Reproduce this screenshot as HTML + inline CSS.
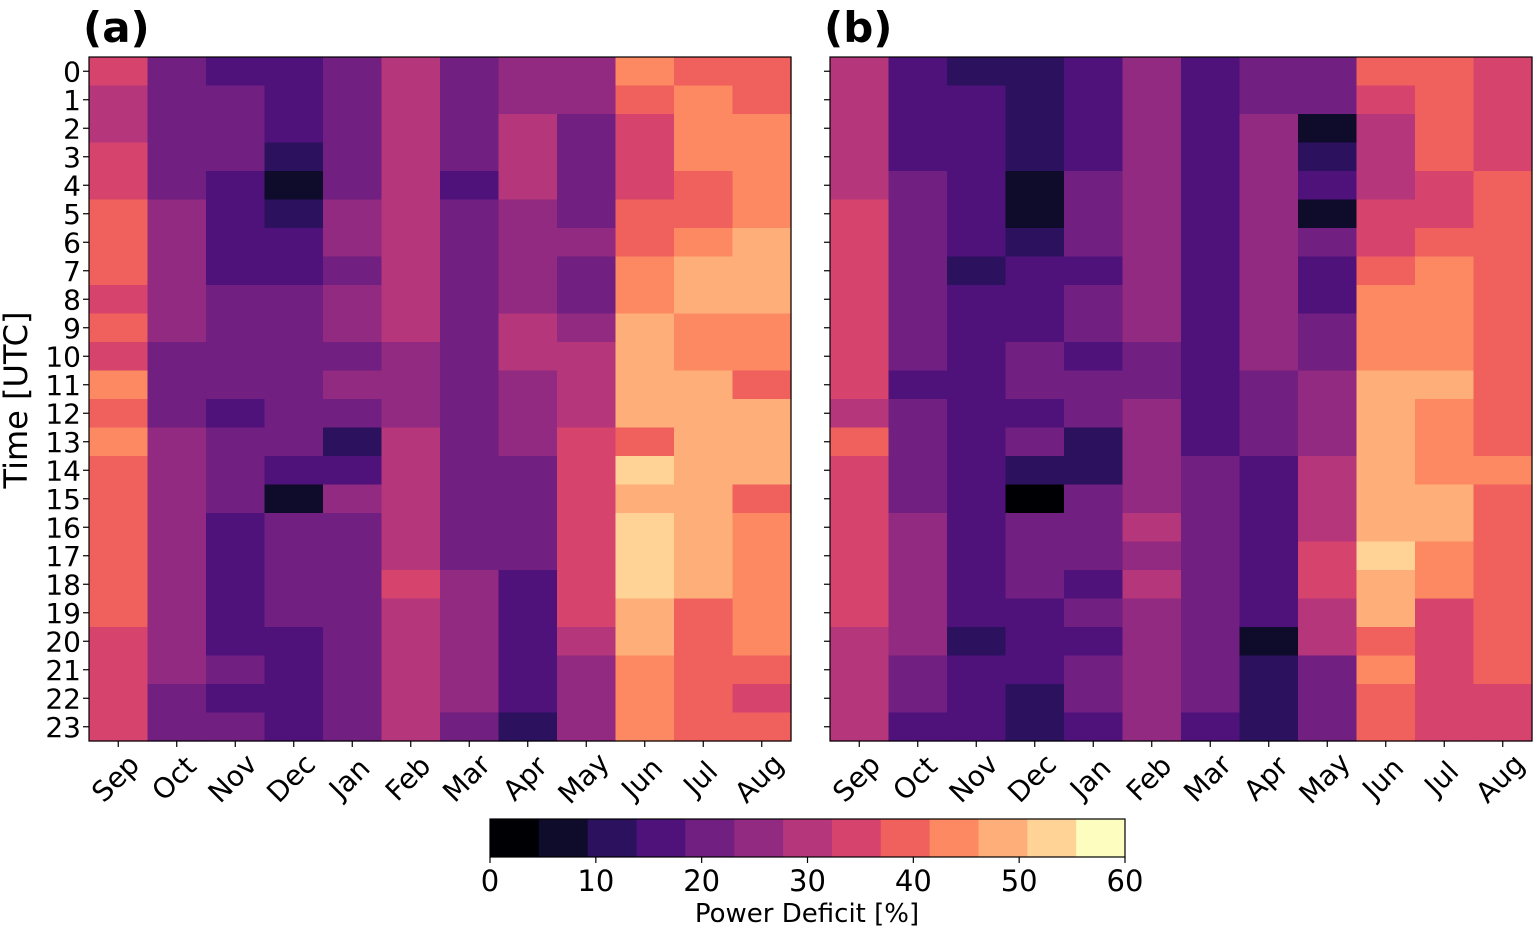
<!DOCTYPE html>
<html><head><meta charset="utf-8"><style>
html,body{margin:0;padding:0;background:#fff}
svg{display:block;font-family:"DejaVu Sans","Liberation Sans",sans-serif}
</style></head><body>
<svg id="chart" width="1533" height="928" viewBox="0 0 1533 928"></svg>
<script>
const months = ["Sep","Oct","Nov","Dec","Jan","Feb","Mar","Apr","May","Jun","Jul","Aug"];
const hours = [0,1,2,3,4,5,6,7,8,9,10,11,12,13,14,15,16,17,18,19,20,21,22,23];
const cbTicks = [0,10,20,30,40,50,60];
const panelAValues = [
[35,21,16,16,21,30,21,25,25,44,39,39],
[30,21,21,16,21,30,21,25,25,39,44,39],
[30,21,21,16,21,30,21,30,21,35,44,44],
[35,21,21,12,21,30,21,30,21,35,44,44],
[35,21,16,7,21,30,16,30,21,35,39,44],
[39,25,16,12,25,30,21,25,21,39,39,44],
[39,25,16,16,25,30,21,25,25,39,44,48],
[39,25,16,16,21,30,21,25,21,44,48,48],
[35,25,21,21,25,30,21,25,21,44,48,48],
[39,25,21,21,25,30,21,30,25,48,44,44],
[35,21,21,21,21,25,21,30,30,48,44,44],
[44,21,21,21,25,25,21,25,30,48,48,39],
[39,21,16,21,21,25,21,25,30,48,48,48],
[44,25,21,21,12,30,21,25,35,39,48,48],
[39,25,21,16,16,30,21,21,35,53,48,48],
[39,25,21,7,25,30,21,21,35,48,48,39],
[39,25,16,21,21,30,21,21,35,53,48,44],
[39,25,16,21,21,30,21,21,35,53,48,44],
[39,25,16,21,21,35,25,16,35,53,48,44],
[39,25,16,21,21,30,25,16,35,48,39,44],
[35,25,16,16,21,30,25,16,30,48,39,44],
[35,25,21,16,21,30,25,16,25,44,39,39],
[35,21,16,16,21,30,25,16,25,44,39,35],
[35,21,21,16,21,30,21,12,25,44,39,39]
];
const panelBValues = [
[30,16,12,12,16,25,16,21,21,39,39,35],
[30,16,16,12,16,25,16,21,21,35,39,35],
[30,16,16,12,16,25,16,25,7,30,39,35],
[30,16,16,12,16,25,16,25,12,30,39,35],
[30,21,16,7,21,25,16,25,16,30,35,39],
[35,21,16,7,21,25,16,25,7,35,35,39],
[35,21,16,12,21,25,16,25,21,35,39,39],
[35,21,12,16,16,25,16,25,16,39,44,39],
[35,21,16,16,21,25,16,25,16,44,44,39],
[35,21,16,16,21,25,16,25,21,44,44,39],
[35,21,16,21,16,21,16,25,21,44,44,39],
[35,16,16,21,21,21,16,21,25,48,48,39],
[30,21,16,16,21,25,16,21,25,48,44,39],
[39,21,16,21,12,25,16,21,25,48,44,39],
[35,21,16,12,12,25,21,16,30,48,44,44],
[35,21,16,2,21,25,21,16,30,48,48,39],
[35,25,16,21,21,30,21,16,30,48,48,39],
[35,25,16,21,21,25,21,16,35,53,44,39],
[35,25,16,21,16,30,21,16,35,48,44,39],
[35,25,16,16,21,25,21,16,30,48,35,39],
[30,25,12,16,16,25,21,7,30,39,35,39],
[30,21,16,16,21,25,21,12,21,44,35,39],
[30,21,16,12,21,25,21,12,21,39,35,35],
[30,16,16,12,16,25,16,12,21,39,35,35]
];
const palette = ["#000004","#0e0b2b","#2b115e","#4f127b","#711f81","#912a80","#b5367a","#d6446d","#f0605d","#fc8961","#feae78","#fed395","#fcfdbf"];
const VMIN=0, VMAX=60, NB=palette.length;
function colorOf(v){let i=Math.floor((v-VMIN)/(VMAX-VMIN)*NB);i=Math.max(0,Math.min(NB-1,i));return palette[i];}
const NS="http://www.w3.org/2000/svg";
const svg=document.getElementById('chart');
function mk(tag,attrs,parent){const e=document.createElementNS(NS,tag);for(const k in attrs)e.setAttribute(k,attrs[k]);(parent||svg).appendChild(e);return e;}
const PY0=57,PY1=741;
function drawPanel(x0,x1,vals,label,showY,pname){
  const g=mk('g',{});
  
  
  const cw=(x1-x0)/months.length, rh=(PY1-PY0)/hours.length;
  const xs=i=>x0+i*cw, ys=j=>PY0+j*rh;
  hours.forEach((h,j)=>{months.forEach((m,i)=>{
    const r=mk('rect',{x:xs(i),y:ys(j),width:cw+0.6,height:rh+0.6,fill:colorOf(vals[j][i])},g);
    
    
  });});
  const fr=mk('rect',{x:x0,y:PY0,width:x1-x0,height:PY1-PY0,fill:'none',stroke:'#000','stroke-width':1.2},g);
  
  
  hours.forEach((h,j)=>{
    const cy=ys(j)+rh/2;
    mk('line',{x1:x0-6,x2:x0,y1:cy,y2:cy,stroke:'#000','stroke-width':1.2},g);
    if(showY){const t=mk('text',{x:x0-8,y:cy+10,'text-anchor':'end','font-size':28},g);t.textContent=h;
      
      }
  });
  months.forEach((m,i)=>{
    const cx=xs(i)+cw/2;
    mk('line',{x1:cx,x2:cx,y1:PY1,y2:PY1+6,stroke:'#000','stroke-width':1.2},g);
    const t=mk('text',{x:cx-3,y:PY1+37+10,'text-anchor':'middle','font-size':28,transform:`rotate(-45 ${cx-3} ${PY1+37})`},g);
    t.textContent=m;
    
    
  });
  const tl=mk('text',{x:x0-6,y:42,'font-size':42,'font-weight':'bold'},g);
  tl.textContent=label;
  
  
}
drawPanel(89,791,panelAValues,'(a)',true,'panel-a');
drawPanel(830,1532,panelBValues,'(b)',false,'panel-b');
const yt=mk('text',{x:0,y:0,'font-size':32,'text-anchor':'middle',transform:'translate(27 400) rotate(-90)'});
yt.textContent='Time [UTC]';


const CB0=490,CB1=1125,CBY=819,CBH=38;
const cbx=v=>CB0+(v-VMIN)/(VMAX-VMIN)*(CB1-CB0);
const cbg=mk('g',{});


palette.forEach((c,i)=>{
  const a=VMIN+i*(VMAX-VMIN)/NB,b=VMIN+(i+1)*(VMAX-VMIN)/NB;
  mk('rect',{x:cbx(a),y:CBY,width:cbx(b)-cbx(a)+0.5,height:CBH,fill:c},cbg);
});
mk('rect',{x:CB0,y:CBY,width:CB1-CB0,height:CBH,fill:'none',stroke:'#000','stroke-width':1.2},cbg);
cbTicks.forEach(v=>{
  mk('line',{x1:cbx(v),x2:cbx(v),y1:CBY+CBH,y2:CBY+CBH+6,stroke:'#000','stroke-width':1.2},cbg);
  const t=mk('text',{x:cbx(v),y:891,'text-anchor':'middle','font-size':29},cbg);t.textContent=v;
  
  
});
const ct=mk('text',{x:807,y:922,'text-anchor':'middle','font-size':26});
ct.textContent='Power Deficit [%]';


</script>
</body></html>
